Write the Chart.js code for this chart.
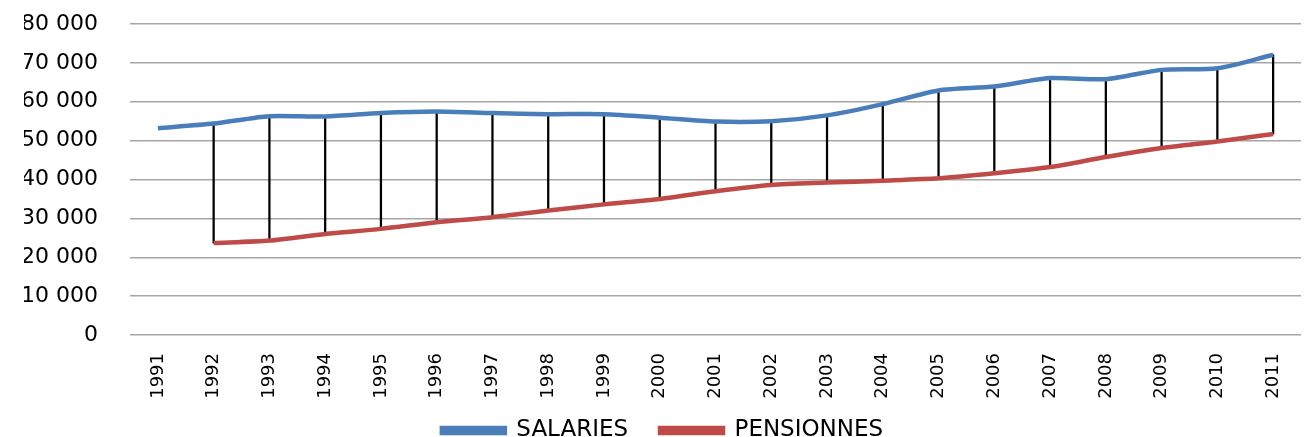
<!DOCTYPE html>
<html>
<head>
<meta charset="utf-8">
<script src="https://cdn.jsdelivr.net/npm/chart.js@4.4.1/dist/chart.umd.min.js"></script>
<style>
  html, body { margin: 0; padding: 0; background: #fff; }
  #wrap { width: 1306px; height: 437px; }
</style>
</head>
<body>
<div id="wrap"><canvas id="chart"></canvas></div>
<script>
// years on the x axis
var years = ['1991', '1992', '1993', '1994', '1995', '1996', '1997', '1998', '1999', '2000',
             '2001', '2002', '2003', '2004', '2005', '2006', '2007', '2008', '2009', '2010', '2011'];

// series values
var salaries = [53200, 54400, 56300, 56200, 57100, 57500, 57100, 56800, 56800, 55900,
                54900, 55000, 56500, 59400, 62900, 63900, 66100, 65800, 68200, 68600, 72100];
var pensionnes = [null, 23650, 24300, 26000, 27300, 29000, 30300, 32000, 33600, 35000,
                  37000, 38600, 39200, 39700, 40300, 41600, 43200, 45800, 48100, 49800, 51700];

var yTicks = [0, 10000, 20000, 30000, 40000, 50000, 60000, 70000, 80000];

// high-low lines between the two series
var ecart = years.map(function (y, i) {
    if (pensionnes[i] == null) return null;
    return [pensionnes[i], salaries[i]];
});

function fmt(v) {
    return String(v).replace(/\B(?=(\d{3})+(?!\d))/g, ' ');
}

var ctx = document.getElementById('chart').getContext('2d');
new Chart(ctx, {
    data: {
        labels: years,
        datasets: [
            {
                type: 'line',
                label: 'SALARIES',
                data: salaries,
                borderColor: '#4a7ebb',
                backgroundColor: '#4a7ebb',
                borderWidth: 4.5,
                pointRadius: 0,
                tension: 0.25,
                order: 1
            },
            {
                type: 'line',
                label: 'PENSIONNES',
                data: pensionnes,
                borderColor: '#be4b48',
                backgroundColor: '#be4b48',
                borderWidth: 4.5,
                pointRadius: 0,
                tension: 0.25,
                order: 2
            },
            {
                type: 'bar',
                label: 'ecart',
                data: ecart,
                backgroundColor: '#000',
                barThickness: 1.6,
                order: 3
            }
        ]
    },
    options: {
        responsive: true,
        maintainAspectRatio: false,
        animation: false,
        layout: { autoPadding: false, padding: { top: 24, left: 24, right: 5, bottom: -15 } },
        plugins: {
            tooltip: { enabled: false },
            legend: {
                position: 'bottom',
                labels: {
                    generateLabels: function (chart) {
                        var items = Chart.defaults.plugins.legend.labels.generateLabels(chart);
                        items = items.filter(function (item) { return item.text !== 'ecart'; });
                        // wider gap between the two entries, like the original
                        items[0].text = items[0].text + '   ';
                        return items;
                    },
                    boxWidth: 63,
                    boxHeight: 5,
                    padding: 10,
                    color: '#000',
                    font: { family: 'DejaVu Sans', size: 23 }
                }
            }
        },
        scales: {
            x: {
                offset: true,
                grid: { display: false },
                border: { display: false },
                afterFit: function (axis) { axis.height = 74; },
                ticks: {
                    color: '#000',
                    maxRotation: 90,
                    minRotation: 90,
                    padding: 10,
                    font: { family: 'DejaVu Sans', size: 18 }
                }
            },
            y: {
                min: 0,
                max: 80000,
                afterBuildTicks: function (axis) {
                    axis.ticks = yTicks.map(function (v) { return { value: v }; });
                },
                afterFit: function (axis) {
                    // keep the label gap without letting it push the plot down
                    axis.width = 106;
                    axis.paddingTop = 0;
                    axis.paddingBottom = 0;
                },
                grid: { color: '#a6a6a6', lineWidth: 1.5, tickLength: 0 },
                border: { display: false },
                ticks: {
                    color: '#000',
                    padding: 32,
                    font: { family: 'DejaVu Sans', size: 22 },
                    callback: function (v) { return fmt(v); }
                }
            }
        }
    }
});
</script>
</body>
</html>
